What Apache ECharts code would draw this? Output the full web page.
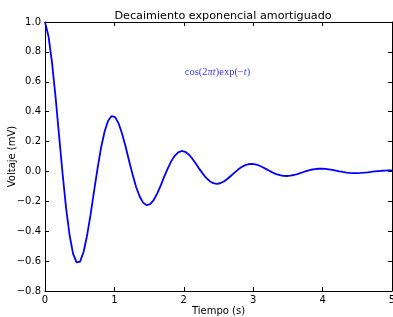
<!DOCTYPE html>
<html>
<head>
<meta charset="utf-8">
<script src="https://cdn.jsdelivr.net/npm/echarts@6/dist/echarts.min.js"></script>
<style>
    html, body { margin: 0; padding: 0; background: #fff; }
    #chart { width: 393px; height: 317px; }
</style>
</head>
<body>
<div id="chart"></div>
<script type="text/javascript">
    // tiempo (s), 100 muestras entre 0 y 5
    var tiempo = [0, 0.051, 0.101, 0.152, 0.202, 0.253, 0.303, 0.354, 0.404, 0.455,
        0.505, 0.556, 0.606, 0.657, 0.707, 0.758, 0.808, 0.859, 0.909, 0.960,
        1.010, 1.061, 1.111, 1.162, 1.212, 1.263, 1.313, 1.364, 1.414, 1.465,
        1.515, 1.566, 1.616, 1.667, 1.717, 1.768, 1.818, 1.869, 1.919, 1.970,
        2.020, 2.071, 2.121, 2.172, 2.222, 2.273, 2.323, 2.374, 2.424, 2.475,
        2.525, 2.576, 2.626, 2.677, 2.727, 2.778, 2.828, 2.879, 2.929, 2.980,
        3.030, 3.081, 3.131, 3.182, 3.232, 3.283, 3.333, 3.384, 3.434, 3.485,
        3.535, 3.586, 3.636, 3.687, 3.737, 3.788, 3.838, 3.889, 3.939, 3.990,
        4.040, 4.091, 4.141, 4.192, 4.242, 4.293, 4.343, 4.394, 4.444, 4.495,
        4.545, 4.596, 4.646, 4.697, 4.747, 4.798, 4.848, 4.899, 4.949, 5.000];
    // voltaje (mV)
    var voltaje = [1.000, 0.9033, 0.7279, 0.4985, 0.2426, -0.0123, -0.2416, -0.4253, -0.5499, -0.6090,
        -0.6032, -0.5391, -0.4288, -0.2873, -0.1314, 0.0223, 0.1591, 0.2672, 0.3389, 0.3708,
        0.3635, 0.3214, 0.2522, 0.1650, 0.0702, -0.0224, -0.1039, -0.1675, -0.2086, -0.2255,
        -0.2188, -0.1914, -0.1481, -0.0944, -0.0368, 0.0189, 0.0674, 0.1047, 0.1282, 0.1370,
        0.1316, 0.1139, 0.0868, 0.0538, 0.0188, -0.0147, -0.0435, -0.0653, -0.0787, -0.0831,
        -0.0790, -0.0676, -0.0508, -0.0305, -0.0093, 0.0108, 0.0279, 0.0407, 0.0482, 0.0504,
        0.0474, 0.0401, 0.0296, 0.0172, 0.0044, -0.0077, -0.0178, -0.0253, -0.0295, -0.0305,
        -0.0284, -0.0238, -0.0173, -0.0097, -0.0019, 0.0053, 0.0114, 0.0157, 0.0181, 0.0185,
        0.0170, 0.0141, 0.0100, 0.0054, 0.0007, -0.0036, -0.0072, -0.0097, -0.0110, -0.0112,
        -0.0102, -0.0083, -0.0058, -0.0030, -0.0001, 0.0024, 0.0045, 0.0060, 0.0067, 0.0067];
    var ticksX = [0, 1, 2, 3, 4, 5];
    var ticksY = [-0.8, -0.6, -0.4, -0.2, 0.0, 0.2, 0.4, 0.6, 0.8, 1.0];
    var titulo = 'Decaimiento exponencial amortiguado';
    var anotacion = [2.0, 0.65];

    function fmtY(v) {
        var s = v.toFixed(1);
        return s.charAt(0) == '-' ? '\u2212' + s.substring(1) : s;
    }

    var datos = [];
    for (var i = 0; i < tiempo.length; i++) {
        datos.push([tiempo[i], voltaje[i]]);
    }

    var fuente = 'DejaVu Sans';
    var ejeBase = {
        type: 'value',
        axisLine: { show: true, onZero: false, lineStyle: { color: '#000', width: 1 } },
        axisTick: { show: true, inside: true, length: 4, lineStyle: { color: '#000' } },
        splitLine: { show: false }
    };

    var option = {
        animation: false,
        title: {
            text: titulo,
            left: 218, top: 6, textAlign: 'center',
            textStyle: { fontFamily: fuente, fontSize: 11.2, fontWeight: 'normal', color: '#000' }
        },
        grid: { left: 45, right: 1, top: 22, bottom: 26, containLabel: false, outerBoundsMode: 'none' }
    };

    option.xAxis = [
        Object.assign({}, ejeBase, {
            min: ticksX[0], max: ticksX[ticksX.length - 1], interval: 1,
            position: 'bottom',
            name: 'Tiempo (s)', nameLocation: 'middle', nameGap: 15, nameMoveOverlap: false,
            nameTextStyle: { fontFamily: fuente, fontSize: 10, color: '#000' },
            axisLabel: { fontFamily: fuente, fontSize: 10, color: '#000', margin: 4, showMaxLabel: true }
        }),
        Object.assign({}, ejeBase, {
            min: ticksX[0], max: ticksX[ticksX.length - 1], interval: 1,
            position: 'top',
            axisLabel: { show: false }
        })
    ];
    option.yAxis = [
        Object.assign({}, ejeBase, {
            min: ticksY[0], max: ticksY[ticksY.length - 1], interval: 0.2,
            position: 'left',
            name: 'Voltaje (mV)', nameLocation: 'middle', nameGap: 28, nameRotate: 90, nameMoveOverlap: false,
            nameTextStyle: { fontFamily: fuente, fontSize: 10, color: '#000' },
            axisLabel: { fontFamily: fuente, fontSize: 10, color: '#000', margin: 4, formatter: fmtY }
        }),
        Object.assign({}, ejeBase, {
            min: ticksY[0], max: ticksY[ticksY.length - 1], interval: 0.2,
            position: 'right',
            axisLabel: { show: false }
        })
    ];
    option.series = [
        {
            name: 'voltaje',
            type: 'line',
            data: datos,
            showSymbol: false,
            smooth: false,
            lineStyle: { color: '#0000ff', width: 1.8 },
            clip: true
        }
    ];

    var chart = echarts.init(document.getElementById('chart'));
    chart.setOption(option);

    // texto matematico en coordenadas de datos
    var p = chart.convertToPixel({ xAxisIndex: 0, yAxisIndex: 0 }, anotacion);
    chart.setOption({
        graphic: [{
            type: 'text',
            left: p[0] + 1, top: p[1] - 8,
            style: {
                text: '{n|cos(2}{i|\u03c0t}{n|)exp(\u2212}{i|t}{n|)}',
                rich: {
                    n: { fontFamily: 'Liberation Serif', fontSize: 10.5, fill: '#3838ff' },
                    i: { fontFamily: 'Liberation Serif', fontStyle: 'italic', fontSize: 10.5, fill: '#3838ff' }
                }
            }
        }]
    });
</script>
</body>
</html>
